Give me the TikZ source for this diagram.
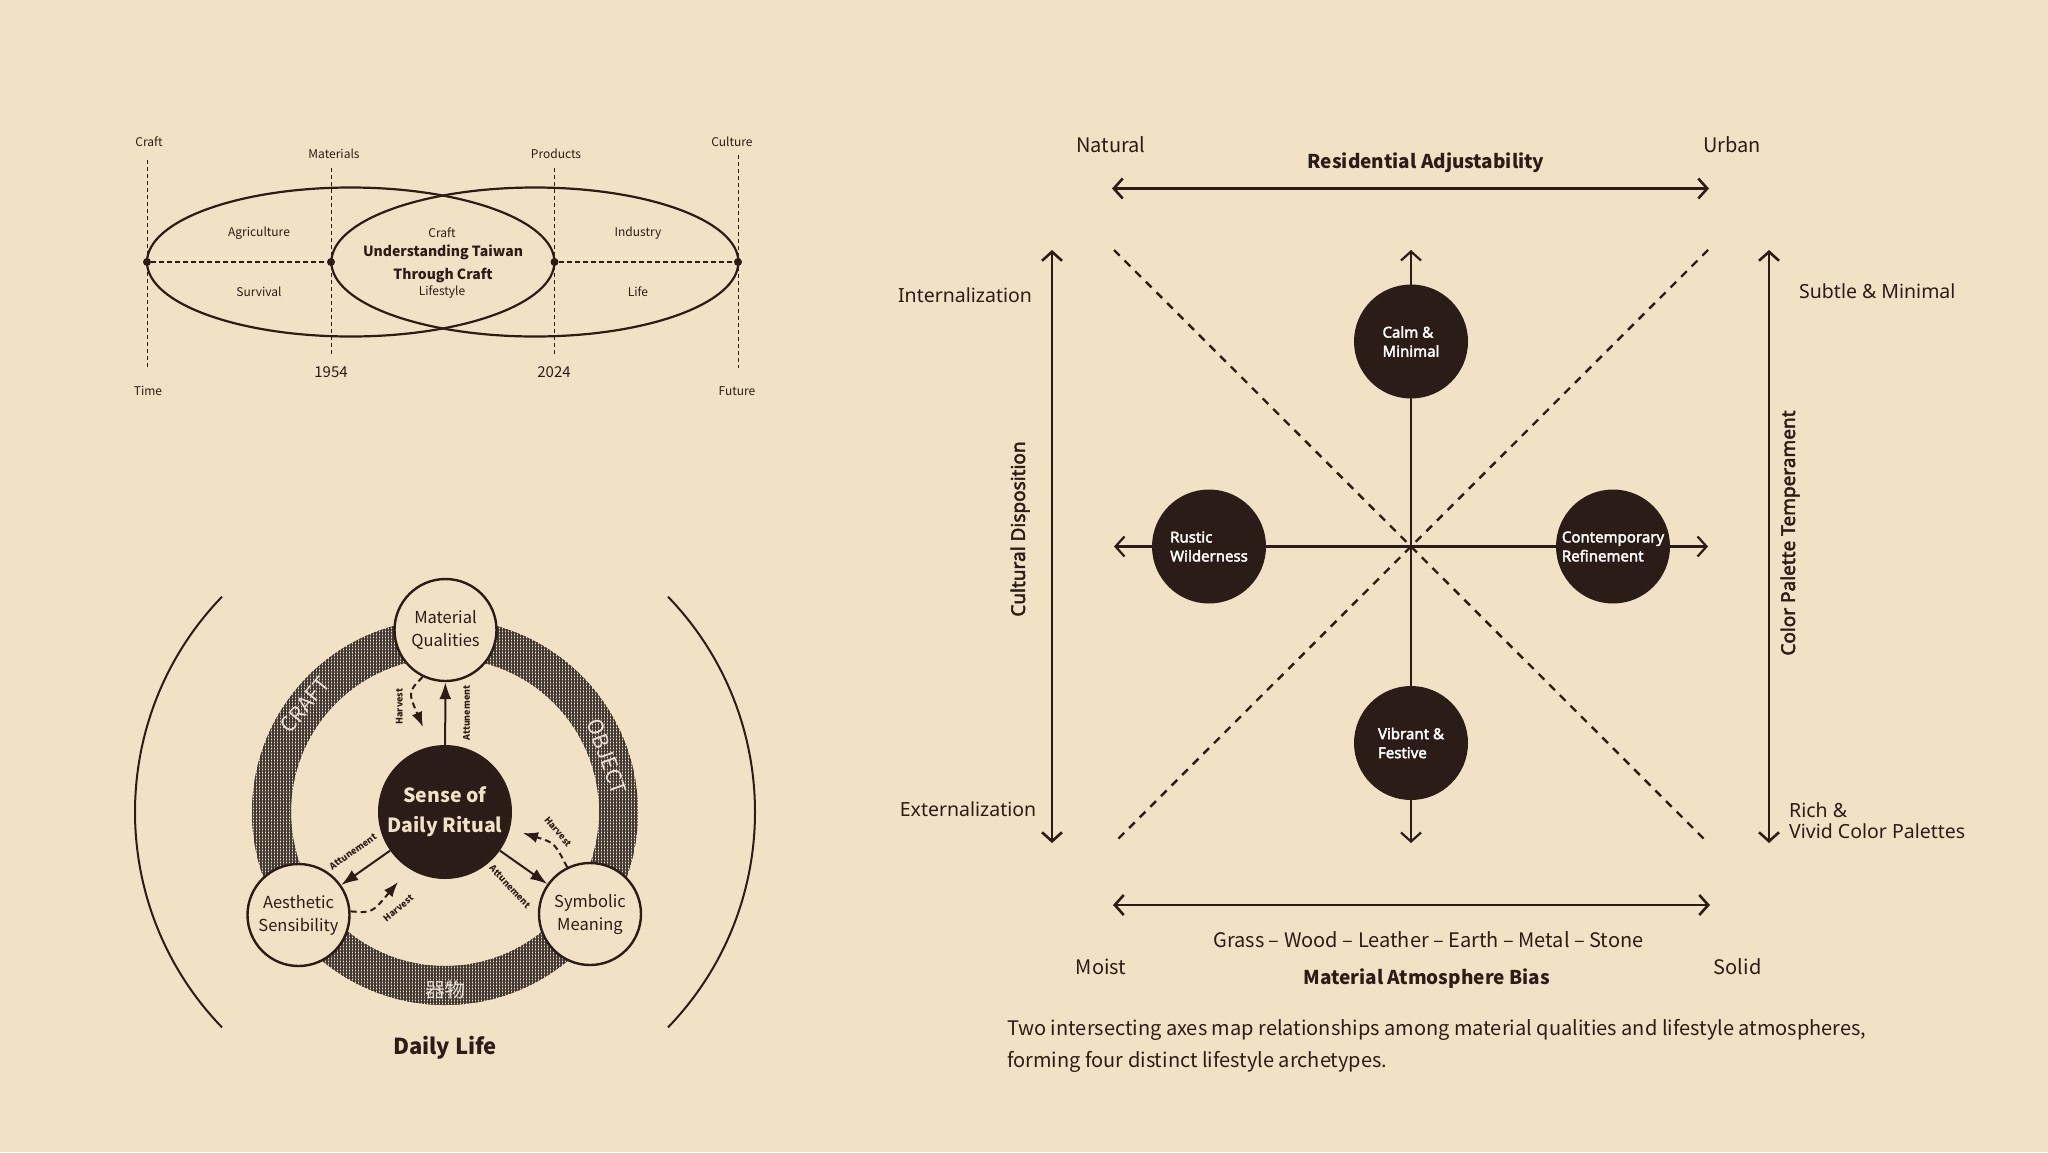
\documentclass[tikz,border=0pt]{standalone}
\usepackage{fontspec}
\setmainfont{Noto Sans CJK TC}
\newfontfamily\notosans{Noto Sans}
\newfontfamily\notobold{Noto Sans}[FakeBold=2.5]
\usetikzlibrary{arrows.meta,patterns.meta}

\definecolor{wood}{RGB}{241,226,198}
\definecolor{ink}{RGB}{43,28,23}
\definecolor{ringink}{RGB}{66,56,52}
\definecolor{ringtext}{RGB}{232,224,212}

\newcommand{\pxfont}[2]{\fontsize{#1}{#2}\selectfont}

\begin{document}
\begin{tikzpicture}[
    x=1pt, y=-1pt,
    every node/.style={text=ink, inner sep=1pt},
    eralbl/.style={font=\pxfont{12}{15}},
    zonelbl/.style={font=\pxfont{12}{15}},
    yearlbl/.style={font=\pxfont{15}{18}},
    craftttl/.style={font=\bfseries\pxfont{14}{23}, align=center},
    tick/.style={draw=ink, line width=1pt, dash pattern=on 4pt off 3pt},
    era/.style={draw=ink, line width=2.2pt},
    seam/.style={draw=ink, line width=1.3pt, dash pattern=on 5pt off 3pt},
    dot/.style={circle, fill=ink, inner sep=0pt, minimum size=8pt},
    hub/.style={circle, fill=ink, text=wood, minimum size=134pt, inner sep=0pt, align=center, font=\bfseries\pxfont{19.5}{30}},
    facet/.style={circle, draw=ink, line width=2.4pt, fill=wood, minimum size=102pt, inner sep=0pt, align=center, font=\pxfont{16.5}{23}},
    attune/.style={draw=ink, line width=2pt, -{Latex[length=17pt,width=12pt]}},
    harvest/.style={draw=ink, line width=2pt, dash pattern=on 6pt off 4pt, -{Latex[length=15pt,width=11pt]}},
    flowlbl/.style={font=\bfseries\pxfont{9}{9}, inner sep=0pt},
    ringlbl/.style={text=ringtext, font=\pxfont{21}{21}},
    bracket/.style={draw=ink, line width=2pt},
    quad/.style={circle, fill=ink, text=white, minimum size=114pt, inner sep=0pt, align=left, font=\notobold\pxfont{15}{19}},
    axis/.style={draw=ink, line width=2.6pt, {Straight Barb[length=9pt,width=20pt]}-{Straight Barb[length=9pt,width=20pt]}},
    crossaxis/.style={axis, line width=2.2pt},
    diag/.style={draw=ink, line width=2.4pt, dash pattern=on 8pt off 7pt},
    axlbl/.style={font=\pxfont{20}{32}},
    axhead/.style={font=\bfseries\pxfont{19}{24}},
    sidelbl/.style={font=\notosans\pxfont{19.5}{21}},
    sidehead/.style={font=\notobold\pxfont{19}{20}}
]
    \useasboundingbox[fill=wood] (0,0) rectangle (2048,1152);

    % Timeline of craft
    \draw[tick] (147,160) -- (147,368);
    \draw[tick] (331,168) -- (331,355);
    \draw[tick] (554.5,168) -- (554.5,355);
    \draw[tick] (738,155) -- (738,368);

    \draw[era] (350.7,262) ellipse[x radius=203.7, y radius=74.5];
    \draw[era] (534.9,262) ellipse[x radius=203.5, y radius=74.5];

    \node[dot] (p0) at (147,262) {};
    \node[dot] (p1) at (331,262) {};
    \node[dot] (p2) at (554.5,262) {};
    \node[dot] (p3) at (738,262) {};
    \draw[seam] (p0) -- (p1);
    \draw[seam] (p2) -- (p3);

    \node[eralbl] (craft) at (149,142) {Craft};
    \node[eralbl] (materials) at (334,154) {Materials};
    \node[eralbl] (products) at (556,154) {Products};
    \node[eralbl] (culture) at (732,142) {Culture};
    \node[eralbl] (time) at (148,391) {Time};
    \node[eralbl] (future) at (737,391) {Future};
    \node[yearlbl] (y1954) at (331,372) {1954};
    \node[yearlbl] (y2024) at (554,372) {2024};

    \node[zonelbl] (agri) at (259,233) {Agriculture};
    \node[zonelbl] (survival) at (259,292) {Survival};
    \node[zonelbl] (craftzone) at (442,233) {Craft};
    \node[zonelbl] (lifestyle) at (442,292) {Lifestyle};
    \node[zonelbl] (industry) at (638,233) {Industry};
    \node[zonelbl] (life) at (638,292) {Life};
    \node[craftttl] (understand) at (443,263.5) {Understanding Taiwan\\Through Craft};

    % Ring of daily ritual
    \path[pattern={Lines[angle=0,distance=3pt,line width=1.7pt]}, pattern color=ringink, even odd rule]
        (445,812) circle[radius=193] (445,812) circle[radius=154];
    \path[pattern={Lines[angle=90,distance=3pt,line width=1.7pt]}, pattern color=ringink, even odd rule]
        (445,812) circle[radius=193] (445,812) circle[radius=154];

    \node[ringlbl, rotate=51] (ringcraft) at (305,705) {CRAFT};
    \node[ringlbl, rotate=-70] (ringobject) at (607,757) {OBJECT};
    \node[ringlbl, font=\pxfont{20}{20}] (ringqiwu) at (445,990) {器物};

    \draw[bracket] (222,596.7) arc[start angle=-136, end angle=-224, radius=310];
    \draw[bracket] (668,596.7) arc[start angle=-44, end angle=44, radius=310];

    \node[hub] (ritual) at (445,812) {Sense of\\Daily Ritual};
    \node[facet] (material) at (445.5,630) {Material\\Qualities};
    \node[facet] (aesthetic) at (298.5,915) {Aesthetic\\Sensibility};
    \node[facet] (symbolic) at (590,914) {Symbolic\\Meaning};

    \draw[attune] (ritual) -- (material);
    \draw[attune] (ritual) -- (aesthetic);
    \draw[attune] (ritual) -- (symbolic);

    \coordinate (hvM) at (423,727);
    \coordinate (hvA) at (398,882);
    \coordinate (hvS) at (523,833);
    \draw[harvest] (material.244) .. controls (408,692) .. (hvM);
    \draw[harvest] (aesthetic.4) .. controls (372,913) .. (hvA);
    \draw[harvest] (symbolic.116) .. controls (554.5,842.7) .. (hvS);

    \node[flowlbl, rotate=90] (attM) at (466.7,713) {Attunement};
    \node[flowlbl, rotate=90] (harM) at (399.3,706.7) {Harvest};
    \node[flowlbl, rotate=35] (attA) at (353,851.7) {Attunement};
    \node[flowlbl, rotate=40] (harA) at (398.3,908.3) {Harvest};
    \node[flowlbl, rotate=-47] (attS) at (510,886.7) {Attunement};
    \node[flowlbl, rotate=-50] (harS) at (558,831.7) {Harvest};

    \node[font=\bfseries\pxfont{22}{22}] (dailylife) at (445,1048) {Daily Life};

    % Lifestyle axes
    \coordinate (topL) at (1112,188.5);
    \coordinate (topR) at (1709,188.5);
    \coordinate (leftT) at (1052,250);
    \coordinate (leftB) at (1052,843);
    \coordinate (rightT) at (1769,250);
    \coordinate (rightB) at (1769,843);
    \coordinate (botL) at (1113,905);
    \coordinate (botR) at (1710,905);

    \draw[axis] (topL) -- (topR);
    \draw[axis] (leftT) -- (leftB);
    \draw[axis] (rightT) -- (rightB);
    \draw[axis] (botL) -- (botR);

    \coordinate (diagTL) at (1114,250);
    \coordinate (diagBR) at (1708,843);
    \coordinate (diagTR) at (1708,250);
    \coordinate (diagBL) at (1114,843);
    \draw[diag] (diagTL) -- (diagBR);
    \draw[diag] (diagTR) -- (diagBL);

    \coordinate (crossT) at (1411,250);
    \coordinate (crossB) at (1411,843);
    \coordinate (crossL) at (1114,546.5);
    \coordinate (crossR) at (1708,546.5);
    \draw[crossaxis] (crossT) -- (crossB);
    \draw[crossaxis] (crossL) -- (crossR);

    \node[quad] (calm) at (1411,341.5) {Calm \&\\Minimal};
    \node[quad] (rustic) at (1209,546.5) {Rustic\\Wilderness};
    \node[quad] (contemp) at (1613,546.5) {Contemporary\\Refinement};
    \node[quad] (vibrant) at (1411,743) {Vibrant \&\\Festive};

    \node[axlbl] (natural) at (1111,145) {Natural};
    \node[axlbl] (urban) at (1732,145) {Urban};
    \node[axhead] (resadj) at (1426,163) {Residential Adjustability};

    \node[sidelbl] (intern) at (965,295.4) {Internalization};
    \node[sidelbl] (extern) at (968,809.6) {Externalization};
    \node[sidehead, rotate=90] (cultdisp) at (1020,529) {Cultural Disposition};

    \node[sidelbl, anchor=west] (subtle) at (1798,291.5) {Subtle \& Minimal};
    \node[sidelbl, anchor=west, align=left] (rich) at (1788,821) {Rich \&\\Vivid Color Palettes};
    \node[sidehead, rotate=90] (colortemp) at (1790,533) {Color Palette Temperament};

    \node[axlbl] (grass) at (1428.5,940) {Grass – Wood – Leather – Earth – Metal – Stone};
    \node[axlbl] (moist) at (1101,966.7) {Moist};
    \node[axlbl] (solid) at (1737.6,966.7) {Solid};
    \node[axhead] (matbias) at (1426.6,978.3) {Material Atmosphere Bias};

    \node[axlbl, anchor=west, align=left] (caption) at (1006,1046) {Two intersecting axes map relationships among material qualities and lifestyle atmospheres,\\forming four distinct lifestyle archetypes.};
\end{tikzpicture}
\end{document}
